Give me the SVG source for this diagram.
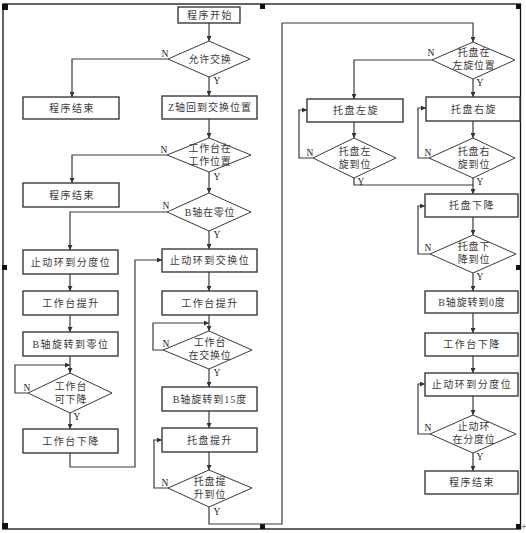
<svg xmlns="http://www.w3.org/2000/svg" width="526" height="533" viewBox="0 0 526 533">
<defs>
<marker id="ah" viewBox="0 0 10 10" refX="10" refY="5" markerWidth="5" markerHeight="5" markerUnits="userSpaceOnUse" orient="auto">
<path d="M0,0 L10,5 L0,10 z" fill="#333"/>
</marker>
<style>
.bx{fill:#fff;stroke:#3a3a3a;stroke-width:1.4}
.dm{fill:#fff;stroke:#3a3a3a;stroke-width:1}
.t{font-family:"Liberation Serif","Noto Sans CJK SC",serif;font-size:10px;fill:#3a3a3a;text-anchor:middle;letter-spacing:1.5px}
.td{font-family:"Liberation Serif","Noto Sans CJK SC",serif;font-size:10px;fill:#3a3a3a;text-anchor:middle;letter-spacing:0.8px}
.yn{font-family:"Liberation Serif",serif;font-size:9.5px;fill:#222;text-anchor:middle}
.c{fill:none;stroke:#3a3a3a;stroke-width:1.2}
.ca{fill:none;stroke:#3a3a3a;stroke-width:1.2;marker-end:url(#ah)}
.fr{fill:none;stroke:#111;stroke-width:1.3}
.h{fill:#111}
</style>
</defs>
<rect id="frame" class="fr" x="3" y="4" width="517.5" height="525"/>
<g id="handles">
<rect class="h" x="2" y="4" width="6" height="6"/>
<rect class="h" x="260" y="4" width="5" height="5"/>
<rect class="h" x="516" y="4" width="5" height="5"/>
<rect class="h" x="2" y="265" width="5" height="5"/>
<rect class="h" x="516" y="265" width="5" height="5"/>
<rect class="h" x="2" y="523" width="6" height="6"/>
<rect class="h" x="260" y="524" width="5" height="5"/>
<rect class="h" x="516" y="524" width="5" height="5"/>
<path d="M522,526.5 H526 M524,524.5 V528.5" stroke="#888" stroke-width="1" fill="none"/>
</g>
<g id="connectors">
<path class="ca" d="M209,23 V41"/>
<path class="ca" d="M168,59 H72 V97"/>
<path class="ca" d="M209,77 V96"/>
<path class="ca" d="M209,119 V138"/>
<path class="ca" d="M167,155 H72 V183"/>
<path class="ca" d="M209,172 V193"/>
<path class="ca" d="M167,212 H70 V250"/>
<path class="ca" d="M209,231 V249"/>
<path class="ca" d="M70,274 V291"/>
<path class="ca" d="M70,315 V332"/>
<path class="ca" d="M70,356 V373"/>
<path class="ca" d="M28,393 H15 V365 H70"/>
<path class="ca" d="M70,413 V429"/>
<path class="ca" d="M70,453 V467 H135 V260 H162"/>
<path class="ca" d="M209,272 V291"/>
<path class="ca" d="M209,315 V331"/>
<path class="ca" d="M163,350 H153 V323 H209"/>
<path class="ca" d="M209,369 V387"/>
<path class="ca" d="M209,411 V428"/>
<path class="ca" d="M209,452 V470"/>
<path class="ca" d="M168,488 H154 V440 H162"/>
<path class="ca" d="M209,507 V524 H282 V23 H473 V42"/>
<path class="ca" d="M432,60 H354 V99"/>
<path class="ca" d="M473,79 V97"/>
<path class="ca" d="M354,122 V138"/>
<path class="ca" d="M313,158 H299 V110 H307"/>
<path class="ca" d="M473,121 V138"/>
<path class="ca" d="M429,158 H418 V108 H426"/>
<path class="c" d="M354,178 V185 H473"/>
<path class="ca" d="M473,178 V194"/>
<path class="ca" d="M473,217 V235"/>
<path class="ca" d="M430,254 H418 V206 H425"/>
<path class="ca" d="M473,273 V291"/>
<path class="ca" d="M473,313 V333"/>
<path class="ca" d="M473,356 V373"/>
<path class="ca" d="M473,396 V415"/>
<path class="ca" d="M430,434 H418 V384 H425"/>
<path class="ca" d="M473,453 V471"/>
</g>
<g id="n_start"><rect class="bx" x="178" y="7" width="62" height="16"/><text class="t" x="210" y="19">程序开始</text></g>
<g id="n_d1"><polygon class="dm" points="209,41 250,59 209,77 168,59"/><text class="td" x="210" y="63">允许交换</text><text class="yn" x="165" y="57">N</text><text class="yn" x="217" y="84">Y</text></g>
<g id="n_end1"><rect class="bx" x="23" y="97" width="96" height="22"/><text class="t" x="72" y="112">程序结束</text></g>
<g id="n_z"><rect class="bx" x="162" y="96" width="95" height="23"/><text class="t" x="210" y="111" style="letter-spacing:1px">Z轴回到交换位置</text></g>
<g id="n_d2"><polygon class="dm" points="209,138 251,155 209,172 167,155"/><text class="td" x="210" y="152">工作台在</text><text class="td" x="210" y="165">工作位置</text><text class="yn" x="164" y="153">N</text><text class="yn" x="217" y="180">Y</text></g>
<g id="n_end2"><rect class="bx" x="23" y="183" width="96" height="24"/><text class="t" x="72" y="199">程序结束</text></g>
<g id="n_d3"><polygon class="dm" points="209,193 251,212 209,231 167,212"/><text class="td" x="210" y="216">B轴在零位</text><text class="yn" x="166" y="209">N</text><text class="yn" x="217" y="238">Y</text></g>
<g id="n_l1"><rect class="bx" x="23" y="250" width="95" height="24"/><text class="t" x="71" y="266">止动环到分度位</text></g>
<g id="n_l2"><rect class="bx" x="23" y="291" width="95" height="24"/><text class="t" x="71" y="307">工作台提升</text></g>
<g id="n_l3"><rect class="bx" x="23" y="332" width="95" height="24"/><text class="t" x="71" y="348">B轴旋转到零位</text></g>
<g id="n_d4"><polygon class="dm" points="70,373 112,393 70,413 28,393"/><text class="td" x="71" y="390">工作台</text><text class="td" x="71" y="403">可下降</text><text class="yn" x="27" y="391">N</text><text class="yn" x="77" y="420">Y</text></g>
<g id="n_l4"><rect class="bx" x="23" y="429" width="95" height="24"/><text class="t" x="71" y="445">工作台下降</text></g>
<g id="n_m1"><rect class="bx" x="162" y="249" width="95" height="23"/><text class="t" x="210" y="264">止动环到交换位</text></g>
<g id="n_m2"><rect class="bx" x="162" y="291" width="95" height="24"/><text class="t" x="210" y="307">工作台提升</text></g>
<g id="n_d5"><polygon class="dm" points="209,331 252,350 209,369 163,350"/><text class="td" x="210" y="346">工作台</text><text class="td" x="210" y="359">在交换位</text><text class="yn" x="166" y="347">N</text><text class="yn" x="217" y="376">Y</text></g>
<g id="n_m3"><rect class="bx" x="162" y="387" width="95" height="24"/><text class="t" x="210" y="403" style="letter-spacing:1px">B轴旋转到15度</text></g>
<g id="n_m4"><rect class="bx" x="162" y="428" width="95" height="24"/><text class="t" x="210" y="444">托盘提升</text></g>
<g id="n_d6"><polygon class="dm" points="209,470 252,488 209,507 168,488"/><text class="td" x="210" y="485">托盘提</text><text class="td" x="210" y="498">升到位</text><text class="yn" x="165" y="486">N</text><text class="yn" x="217" y="515">Y</text></g>
<g id="n_d7"><polygon class="dm" points="473,42 515,60 473,79 432,60"/><text class="td" x="474" y="56">托盘在</text><text class="td" x="474" y="69">左旋位置</text><text class="yn" x="431" y="56">N</text><text class="yn" x="480" y="86">Y</text></g>
<g id="n_r_left"><rect class="bx" x="307" y="99" width="96" height="23"/><text class="t" x="356" y="114">托盘左旋</text></g>
<g id="n_r_right"><rect class="bx" x="426" y="97" width="94" height="24"/><text class="t" x="474" y="113">托盘右旋</text></g>
<g id="n_d8"><polygon class="dm" points="354,138 396,158 354,178 313,158"/><text class="td" x="355" y="155">托盘左</text><text class="td" x="355" y="168">旋到位</text><text class="yn" x="310" y="156">N</text><text class="yn" x="361" y="185">Y</text></g>
<g id="n_d9"><polygon class="dm" points="473,138 515,158 473,178 429,158"/><text class="td" x="474" y="155">托盘右</text><text class="td" x="474" y="168">旋到位</text><text class="yn" x="428" y="156">N</text><text class="yn" x="480" y="185">Y</text></g>
<g id="n_r1"><rect class="bx" x="425" y="194" width="93" height="23"/><text class="t" x="472" y="209">托盘下降</text></g>
<g id="n_d10"><polygon class="dm" points="473,235 516,254 473,273 430,254"/><text class="td" x="474" y="250">托盘下</text><text class="td" x="474" y="263">降到位</text><text class="yn" x="428" y="251">N</text><text class="yn" x="480" y="280">Y</text></g>
<g id="n_r2"><rect class="bx" x="425" y="291" width="93" height="22"/><text class="t" x="472" y="306" style="letter-spacing:0.8px">B轴旋转到0度</text></g>
<g id="n_r3"><rect class="bx" x="425" y="333" width="93" height="23"/><text class="t" x="472" y="348">工作台下降</text></g>
<g id="n_r4"><rect class="bx" x="425" y="373" width="93" height="23"/><text class="t" x="472" y="388">止动环到分度位</text></g>
<g id="n_d11"><polygon class="dm" points="473,415 516,434 473,453 430,434"/><text class="td" x="474" y="430">止动环</text><text class="td" x="474" y="443">在分度位</text><text class="yn" x="428" y="431">N</text><text class="yn" x="480" y="460">Y</text></g>
<g id="n_end3"><rect class="bx" x="425" y="471" width="93" height="23"/><text class="t" x="472" y="486">程序结束</text></g>
</svg>
